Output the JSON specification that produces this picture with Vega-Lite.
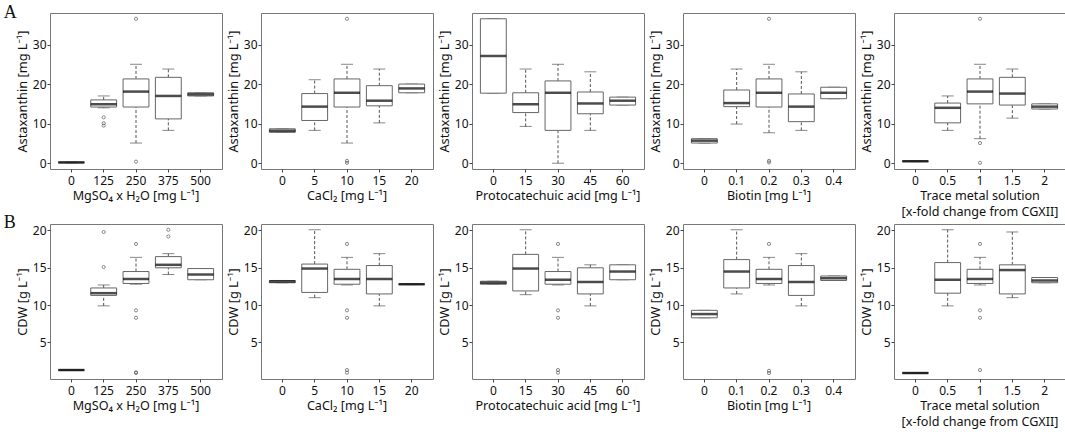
{
  "$schema": "https://vega.github.io/schema/vega-lite/v6.json",
  "padding": {"left": 3, "top": 3, "right": 1, "bottom": 1},
  "background": "white",
  "config": {
    "view": {"stroke": "#777", "strokeWidth": 1},
    "axis": {"labelFont": "Noto Sans", "labelFontSize": 12, "labelColor": "#111", "titleFont": "Noto Sans", "titleFontSize": 12.8, "titleFontWeight": "normal", "titleColor": "#111", "grid": false, "domain": false, "ticks": true, "tickSize": 3, "tickColor": "#444", "labelPadding": 1, "titlePadding": 3},
    "axisX": {"labelPadding": 3},
    "header": {"labelFont": "Noto Sans", "labelFontSize": 12.6, "labelColor": "#111", "labelLineHeight": 16}
  },
  "datasets": {
    "astax": [
      {"panel": "MgSO₄ x H₂O [mg L⁻¹]", "label": "0", "lo": 0.1, "q1": 0.1, "med": 0.2, "q3": 0.3, "hi": 0.3},
      {"panel": "MgSO₄ x H₂O [mg L⁻¹]", "label": "125", "lo": 14.0, "q1": 14.2, "med": 14.9, "q3": 16.0, "hi": 17.0},
      {"panel": "MgSO₄ x H₂O [mg L⁻¹]", "label": "250", "lo": 5.1, "q1": 14.2, "med": 18.1, "q3": 21.3, "hi": 25.0},
      {"panel": "MgSO₄ x H₂O [mg L⁻¹]", "label": "375", "lo": 8.3, "q1": 11.2, "med": 17.0, "q3": 21.7, "hi": 23.8},
      {"panel": "MgSO₄ x H₂O [mg L⁻¹]", "label": "500", "lo": 17.0, "q1": 17.0, "med": 17.4, "q3": 17.8, "hi": 17.8},
      {"panel": "MgSO₄ x H₂O [mg L⁻¹]", "label": "125", "v": 11.6},
      {"panel": "MgSO₄ x H₂O [mg L⁻¹]", "label": "125", "v": 10.1},
      {"panel": "MgSO₄ x H₂O [mg L⁻¹]", "label": "125", "v": 9.5},
      {"panel": "MgSO₄ x H₂O [mg L⁻¹]", "label": "250", "v": 36.5},
      {"panel": "MgSO₄ x H₂O [mg L⁻¹]", "label": "250", "v": 0.4},
      {"panel": "CaCl₂ [mg L⁻¹]", "label": "0", "lo": 7.8, "q1": 7.8, "med": 8.2, "q3": 8.7, "hi": 8.7},
      {"panel": "CaCl₂ [mg L⁻¹]", "label": "5", "lo": 8.3, "q1": 10.8, "med": 14.3, "q3": 17.6, "hi": 21.1},
      {"panel": "CaCl₂ [mg L⁻¹]", "label": "10", "lo": 5.1, "q1": 14.2, "med": 17.8, "q3": 21.3, "hi": 25.0},
      {"panel": "CaCl₂ [mg L⁻¹]", "label": "15", "lo": 10.2, "q1": 14.5, "med": 15.8, "q3": 19.6, "hi": 23.8},
      {"panel": "CaCl₂ [mg L⁻¹]", "label": "20", "lo": 17.8, "q1": 17.8, "med": 18.9, "q3": 20.0, "hi": 20.0},
      {"panel": "CaCl₂ [mg L⁻¹]", "label": "10", "v": 36.5},
      {"panel": "CaCl₂ [mg L⁻¹]", "label": "10", "v": 0.6},
      {"panel": "CaCl₂ [mg L⁻¹]", "label": "10", "v": 0.1},
      {"panel": "Protocatechuic acid [mg L⁻¹]", "label": "0", "lo": 17.7, "q1": 17.7, "med": 27.1, "q3": 36.5, "hi": 36.5},
      {"panel": "Protocatechuic acid [mg L⁻¹]", "label": "15", "lo": 9.3, "q1": 12.8, "med": 14.9, "q3": 17.8, "hi": 23.8},
      {"panel": "Protocatechuic acid [mg L⁻¹]", "label": "30", "lo": 0.0, "q1": 8.3, "med": 17.8, "q3": 20.8, "hi": 25.0},
      {"panel": "Protocatechuic acid [mg L⁻¹]", "label": "45", "lo": 8.3, "q1": 12.5, "med": 15.1, "q3": 18.0, "hi": 23.1},
      {"panel": "Protocatechuic acid [mg L⁻¹]", "label": "60", "lo": 14.7, "q1": 14.7, "med": 15.8, "q3": 16.7, "hi": 16.7},
      {"panel": "Biotin [mg L⁻¹]", "label": "0", "lo": 5.1, "q1": 5.1, "med": 5.7, "q3": 6.2, "hi": 6.2},
      {"panel": "Biotin [mg L⁻¹]", "label": "0.1", "lo": 9.9, "q1": 14.3, "med": 15.2, "q3": 18.5, "hi": 23.8},
      {"panel": "Biotin [mg L⁻¹]", "label": "0.2", "lo": 7.7, "q1": 14.2, "med": 17.8, "q3": 21.3, "hi": 25.0},
      {"panel": "Biotin [mg L⁻¹]", "label": "0.3", "lo": 8.3, "q1": 10.5, "med": 14.3, "q3": 17.5, "hi": 23.1},
      {"panel": "Biotin [mg L⁻¹]", "label": "0.4", "lo": 16.3, "q1": 16.3, "med": 17.8, "q3": 19.2, "hi": 19.2},
      {"panel": "Biotin [mg L⁻¹]", "label": "0.2", "v": 36.5},
      {"panel": "Biotin [mg L⁻¹]", "label": "0.2", "v": 0.6},
      {"panel": "Biotin [mg L⁻¹]", "label": "0.2", "v": 0.2},
      {"panel": "Trace metal solution|[x-fold change from CGXII]", "label": "0", "lo": 0.4, "q1": 0.4, "med": 0.5, "q3": 0.6, "hi": 0.6},
      {"panel": "Trace metal solution|[x-fold change from CGXII]", "label": "0.5", "lo": 8.3, "q1": 10.2, "med": 14.0, "q3": 15.2, "hi": 17.0},
      {"panel": "Trace metal solution|[x-fold change from CGXII]", "label": "1", "lo": 6.2, "q1": 15.0, "med": 18.1, "q3": 21.3, "hi": 25.0},
      {"panel": "Trace metal solution|[x-fold change from CGXII]", "label": "1.5", "lo": 11.4, "q1": 14.7, "med": 17.6, "q3": 21.7, "hi": 23.8},
      {"panel": "Trace metal solution|[x-fold change from CGXII]", "label": "2", "lo": 13.7, "q1": 13.7, "med": 14.3, "q3": 15.0, "hi": 15.0},
      {"panel": "Trace metal solution|[x-fold change from CGXII]", "label": "1", "v": 36.5},
      {"panel": "Trace metal solution|[x-fold change from CGXII]", "label": "1", "v": 5.1},
      {"panel": "Trace metal solution|[x-fold change from CGXII]", "label": "1", "v": 0.1}
    ],
    "cdw": [
      {"panel": "MgSO₄ x H₂O [mg L⁻¹]", "label": "0", "lo": 1.25, "q1": 1.25, "med": 1.3, "q3": 1.35, "hi": 1.35},
      {"panel": "MgSO₄ x H₂O [mg L⁻¹]", "label": "125", "lo": 9.9, "q1": 11.3, "med": 11.6, "q3": 12.3, "hi": 12.7},
      {"panel": "MgSO₄ x H₂O [mg L⁻¹]", "label": "250", "lo": 12.8, "q1": 12.9, "med": 13.5, "q3": 14.5, "hi": 16.4},
      {"panel": "MgSO₄ x H₂O [mg L⁻¹]", "label": "375", "lo": 14.1, "q1": 15.0, "med": 15.4, "q3": 16.5, "hi": 16.9},
      {"panel": "MgSO₄ x H₂O [mg L⁻¹]", "label": "500", "lo": 13.4, "q1": 13.4, "med": 14.1, "q3": 14.9, "hi": 14.9},
      {"panel": "MgSO₄ x H₂O [mg L⁻¹]", "label": "125", "v": 19.8},
      {"panel": "MgSO₄ x H₂O [mg L⁻¹]", "label": "125", "v": 15.1},
      {"panel": "MgSO₄ x H₂O [mg L⁻¹]", "label": "250", "v": 18.2},
      {"panel": "MgSO₄ x H₂O [mg L⁻¹]", "label": "250", "v": 9.3},
      {"panel": "MgSO₄ x H₂O [mg L⁻¹]", "label": "250", "v": 8.3},
      {"panel": "MgSO₄ x H₂O [mg L⁻¹]", "label": "250", "v": 1.0},
      {"panel": "MgSO₄ x H₂O [mg L⁻¹]", "label": "250", "v": 0.9},
      {"panel": "MgSO₄ x H₂O [mg L⁻¹]", "label": "375", "v": 20.1},
      {"panel": "MgSO₄ x H₂O [mg L⁻¹]", "label": "375", "v": 19.2},
      {"panel": "CaCl₂ [mg L⁻¹]", "label": "0", "lo": 13.0, "q1": 13.0, "med": 13.15, "q3": 13.3, "hi": 13.3},
      {"panel": "CaCl₂ [mg L⁻¹]", "label": "5", "lo": 11.0, "q1": 11.7, "med": 14.9, "q3": 15.5, "hi": 20.1},
      {"panel": "CaCl₂ [mg L⁻¹]", "label": "10", "lo": 12.7, "q1": 12.8, "med": 13.5, "q3": 14.8, "hi": 16.4},
      {"panel": "CaCl₂ [mg L⁻¹]", "label": "15", "lo": 9.9, "q1": 11.5, "med": 13.5, "q3": 15.3, "hi": 16.9},
      {"panel": "CaCl₂ [mg L⁻¹]", "label": "20", "lo": 12.75, "q1": 12.75, "med": 12.8, "q3": 12.85, "hi": 12.85},
      {"panel": "CaCl₂ [mg L⁻¹]", "label": "10", "v": 18.2},
      {"panel": "CaCl₂ [mg L⁻¹]", "label": "10", "v": 9.3},
      {"panel": "CaCl₂ [mg L⁻¹]", "label": "10", "v": 8.3},
      {"panel": "CaCl₂ [mg L⁻¹]", "label": "10", "v": 1.3},
      {"panel": "CaCl₂ [mg L⁻¹]", "label": "10", "v": 0.95},
      {"panel": "Protocatechuic acid [mg L⁻¹]", "label": "0", "lo": 12.8, "q1": 12.8, "med": 13.0, "q3": 13.2, "hi": 13.2},
      {"panel": "Protocatechuic acid [mg L⁻¹]", "label": "15", "lo": 11.4, "q1": 11.9, "med": 14.9, "q3": 16.8, "hi": 20.1},
      {"panel": "Protocatechuic acid [mg L⁻¹]", "label": "30", "lo": 12.7, "q1": 12.8, "med": 13.4, "q3": 14.5, "hi": 16.4},
      {"panel": "Protocatechuic acid [mg L⁻¹]", "label": "45", "lo": 9.9, "q1": 11.5, "med": 13.1, "q3": 15.0, "hi": 15.4},
      {"panel": "Protocatechuic acid [mg L⁻¹]", "label": "60", "lo": 13.4, "q1": 13.4, "med": 14.5, "q3": 15.4, "hi": 15.4},
      {"panel": "Protocatechuic acid [mg L⁻¹]", "label": "30", "v": 18.2},
      {"panel": "Protocatechuic acid [mg L⁻¹]", "label": "30", "v": 9.3},
      {"panel": "Protocatechuic acid [mg L⁻¹]", "label": "30", "v": 8.3},
      {"panel": "Protocatechuic acid [mg L⁻¹]", "label": "30", "v": 1.3},
      {"panel": "Protocatechuic acid [mg L⁻¹]", "label": "30", "v": 0.95},
      {"panel": "Biotin [mg L⁻¹]", "label": "0", "lo": 8.3, "q1": 8.3, "med": 8.8, "q3": 9.3, "hi": 9.3},
      {"panel": "Biotin [mg L⁻¹]", "label": "0.1", "lo": 11.5, "q1": 12.3, "med": 14.5, "q3": 16.1, "hi": 20.1},
      {"panel": "Biotin [mg L⁻¹]", "label": "0.2", "lo": 12.7, "q1": 12.9, "med": 13.5, "q3": 14.8, "hi": 16.4},
      {"panel": "Biotin [mg L⁻¹]", "label": "0.3", "lo": 9.9, "q1": 11.3, "med": 13.1, "q3": 15.3, "hi": 16.9},
      {"panel": "Biotin [mg L⁻¹]", "label": "0.4", "lo": 13.3, "q1": 13.3, "med": 13.6, "q3": 13.9, "hi": 13.9},
      {"panel": "Biotin [mg L⁻¹]", "label": "0.2", "v": 18.2},
      {"panel": "Biotin [mg L⁻¹]", "label": "0.2", "v": 1.2},
      {"panel": "Biotin [mg L⁻¹]", "label": "0.2", "v": 0.9},
      {"panel": "Trace metal solution|[x-fold change from CGXII]", "label": "0", "lo": 0.85, "q1": 0.85, "med": 0.9, "q3": 0.95, "hi": 0.95},
      {"panel": "Trace metal solution|[x-fold change from CGXII]", "label": "0.5", "lo": 9.9, "q1": 11.6, "med": 13.4, "q3": 15.7, "hi": 20.1},
      {"panel": "Trace metal solution|[x-fold change from CGXII]", "label": "1", "lo": 12.7, "q1": 12.9, "med": 13.5, "q3": 14.8, "hi": 16.4},
      {"panel": "Trace metal solution|[x-fold change from CGXII]", "label": "1.5", "lo": 11.0, "q1": 11.5, "med": 14.7, "q3": 15.4, "hi": 19.8},
      {"panel": "Trace metal solution|[x-fold change from CGXII]", "label": "2", "lo": 13.0, "q1": 13.0, "med": 13.3, "q3": 13.7, "hi": 13.7},
      {"panel": "Trace metal solution|[x-fold change from CGXII]", "label": "1", "v": 18.2},
      {"panel": "Trace metal solution|[x-fold change from CGXII]", "label": "1", "v": 9.3},
      {"panel": "Trace metal solution|[x-fold change from CGXII]", "label": "1", "v": 8.3},
      {"panel": "Trace metal solution|[x-fold change from CGXII]", "label": "1", "v": 1.3}
    ]
  },
  "vconcat": [
    {
      "data": {"name": "astax"},
      "title": {"text": "A", "anchor": "start", "frame": "bounds", "font": "Liberation Serif", "fontSize": 18, "fontWeight": "normal", "color": "#111", "offset": -9, "dx": -12},
      "spacing": 3,
      "resolve": {"scale": {"x": "independent", "y": "independent"}, "axis": {"y": "independent"}},
      "facet": {"column": {"field": "panel", "type": "nominal", "sort": ["MgSO₄ x H₂O [mg L⁻¹]", "CaCl₂ [mg L⁻¹]", "Protocatechuic acid [mg L⁻¹]", "Biotin [mg L⁻¹]", "Trace metal solution|[x-fold change from CGXII]"], "header": {"title": null, "labelOrient": "bottom", "labelPadding": 3, "labelExpr": "split(datum.value, '|')"}}},
      "spec": {
        "width": 172, "height": 156,
        "encoding": {"x": {"field": "label", "type": "ordinal", "sort": ["0", "0.1", "0.2", "0.3", "0.4", "0.5", "1", "1.5", "2", "5", "10", "15", "20", "30", "45", "60", "125", "250", "375", "500"], "scale": {"paddingInner": 0.2, "paddingOuter": 0.26}, "axis": {"title": null, "labelAngle": 0}}},
        "layer": [
          {"mark": {"type": "rule", "color": "#555", "strokeDash": [3, 2]}, "encoding": {"y": {"field": "lo", "type": "quantitative", "title": "Astaxanthin [mg L⁻¹]", "scale": {"domain": [-1.46, 37.96], "nice": false, "zero": false}, "axis": {"values": [0, 10, 20, 30]}}, "y2": {"field": "q1"}}},
          {"mark": {"type": "rule", "color": "#555", "strokeDash": [3, 2]}, "encoding": {"y": {"field": "q3", "type": "quantitative", "title": "Astaxanthin [mg L⁻¹]", "scale": {"domain": [-1.46, 37.96], "nice": false, "zero": false}}, "y2": {"field": "hi"}}},
          {"mark": {"type": "tick", "color": "#555", "size": 12, "thickness": 1}, "encoding": {"y": {"field": "lo", "type": "quantitative", "title": "Astaxanthin [mg L⁻¹]", "scale": {"domain": [-1.46, 37.96], "nice": false, "zero": false}}}},
          {"mark": {"type": "tick", "color": "#555", "size": 12, "thickness": 1}, "encoding": {"y": {"field": "hi", "type": "quantitative", "title": "Astaxanthin [mg L⁻¹]", "scale": {"domain": [-1.46, 37.96], "nice": false, "zero": false}}}},
          {"mark": {"type": "bar", "fill": "white", "stroke": "#666", "strokeWidth": 1}, "encoding": {"y": {"field": "q1", "type": "quantitative", "title": "Astaxanthin [mg L⁻¹]", "scale": {"domain": [-1.46, 37.96], "nice": false, "zero": false}}, "y2": {"field": "q3"}}},
          {"mark": {"type": "tick", "color": "#000", "size": 26, "thickness": 2.5}, "encoding": {"y": {"field": "med", "type": "quantitative", "title": "Astaxanthin [mg L⁻¹]", "scale": {"domain": [-1.46, 37.96], "nice": false, "zero": false}}}},
          {"mark": {"type": "point", "shape": "circle", "filled": false, "size": 10, "color": "#555", "strokeWidth": 1}, "encoding": {"y": {"field": "v", "type": "quantitative", "title": "Astaxanthin [mg L⁻¹]", "scale": {"domain": [-1.46, 37.96], "nice": false, "zero": false}}}}
        ]
      }
    },
    {
      "data": {"name": "cdw"},
      "title": {"text": "B", "anchor": "start", "frame": "bounds", "font": "Liberation Serif", "fontSize": 18, "fontWeight": "normal", "color": "#111", "offset": -8, "dx": -12},
      "spacing": 3,
      "resolve": {"scale": {"x": "independent", "y": "independent"}, "axis": {"y": "independent"}},
      "facet": {"column": {"field": "panel", "type": "nominal", "sort": ["MgSO₄ x H₂O [mg L⁻¹]", "CaCl₂ [mg L⁻¹]", "Protocatechuic acid [mg L⁻¹]", "Biotin [mg L⁻¹]", "Trace metal solution|[x-fold change from CGXII]"], "header": {"title": null, "labelOrient": "bottom", "labelPadding": 3, "labelExpr": "split(datum.value, '|')"}}},
      "spec": {
        "width": 172, "height": 155,
        "encoding": {"x": {"field": "label", "type": "ordinal", "sort": ["0", "0.1", "0.2", "0.3", "0.4", "0.5", "1", "1.5", "2", "5", "10", "15", "20", "30", "45", "60", "125", "250", "375", "500"], "scale": {"paddingInner": 0.2, "paddingOuter": 0.26}, "axis": {"title": null, "labelAngle": 0}}},
        "layer": [
          {"mark": {"type": "rule", "color": "#555", "strokeDash": [3, 2]}, "encoding": {"y": {"field": "lo", "type": "quantitative", "title": "CDW [g L⁻¹]", "scale": {"domain": [0.1, 20.87], "nice": false, "zero": false}, "axis": {"values": [5, 10, 15, 20]}}, "y2": {"field": "q1"}}},
          {"mark": {"type": "rule", "color": "#555", "strokeDash": [3, 2]}, "encoding": {"y": {"field": "q3", "type": "quantitative", "title": "CDW [g L⁻¹]", "scale": {"domain": [0.1, 20.87], "nice": false, "zero": false}}, "y2": {"field": "hi"}}},
          {"mark": {"type": "tick", "color": "#555", "size": 12, "thickness": 1}, "encoding": {"y": {"field": "lo", "type": "quantitative", "title": "CDW [g L⁻¹]", "scale": {"domain": [0.1, 20.87], "nice": false, "zero": false}}}},
          {"mark": {"type": "tick", "color": "#555", "size": 12, "thickness": 1}, "encoding": {"y": {"field": "hi", "type": "quantitative", "title": "CDW [g L⁻¹]", "scale": {"domain": [0.1, 20.87], "nice": false, "zero": false}}}},
          {"mark": {"type": "bar", "fill": "white", "stroke": "#666", "strokeWidth": 1}, "encoding": {"y": {"field": "q1", "type": "quantitative", "title": "CDW [g L⁻¹]", "scale": {"domain": [0.1, 20.87], "nice": false, "zero": false}}, "y2": {"field": "q3"}}},
          {"mark": {"type": "tick", "color": "#000", "size": 26, "thickness": 2.5}, "encoding": {"y": {"field": "med", "type": "quantitative", "title": "CDW [g L⁻¹]", "scale": {"domain": [0.1, 20.87], "nice": false, "zero": false}}}},
          {"mark": {"type": "point", "shape": "circle", "filled": false, "size": 10, "color": "#555", "strokeWidth": 1}, "encoding": {"y": {"field": "v", "type": "quantitative", "title": "CDW [g L⁻¹]", "scale": {"domain": [0.1, 20.87], "nice": false, "zero": false}}}}
        ]
      }
    }
  ],
  "spacing": -6
}
